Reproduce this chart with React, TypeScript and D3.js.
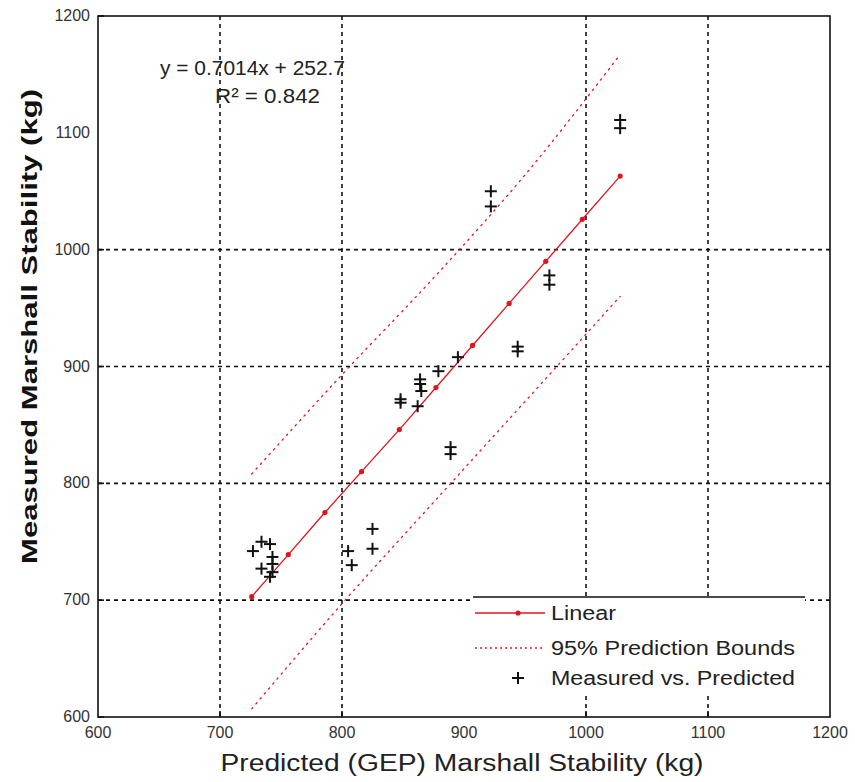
import React, { useEffect, useRef } from "react";
import * as d3 from "d3";

// ---- data ----
const xTicks = [600, 700, 800, 900, 1000, 1100, 1200];
const yTicks = [600, 700, 800, 900, 1000, 1100, 1200];
const xGridValues = [700, 800, 1000, 1100];
const yGridValues = [700, 800, 900, 1000];
const yTickMarks = [600, 700, 800, 900, 1000, 1200];

const predicted = [1028, 1028, 922, 922, 970, 970, 944, 944, 895, 879, 864, 864, 865, 862, 848, 848, 889, 889, 825, 825, 805, 808, 734, 741, 727, 743, 743, 734, 741, 743];
const measured = [1111, 1104, 1050, 1037, 978, 970, 917, 913, 908, 896, 889, 885, 879, 866, 869, 872, 831, 825, 761, 744, 742, 730, 750, 748, 742, 737, 731, 727, 720, 724];

const fitX = [726, 756, 786, 816, 847, 877, 907, 937, 967, 997, 1028];
const fitY = [703, 739, 775, 810, 846, 882, 918, 954, 990, 1026, 1063];

const boundX = [726, 800, 877, 950, 1028];
const upperBound = [808, 893, 978, 1064, 1167];
const lowerBound = [607, 697, 786, 870, 960];

const equationText = "y = 0.7014x + 252.7";
const r2Text = "R² = 0.842";
const legendLabels = ["Linear", "95% Prediction Bounds", "Measured vs. Predicted"];
const xLabel = "Predicted (GEP) Marshall Stability (kg)";
const yLabel = "Measured Marshall Stability (kg)";

const W = 855;
const H = 782;
const L = 98, R = 830, T = 16, B = 717;
const RED = "#e0141e";

export default function App() {
  const ref = useRef<SVGSVGElement | null>(null);

  useEffect(() => {
    const svg = d3.select(ref.current);
    svg.selectAll("*").remove();
    const x = d3.scaleLinear().domain([600, 1200]).range([L, R]);
    const y = d3.scaleLinear().domain([600, 1200]).range([B, T]);
    const font = "Arial, 'Liberation Sans', sans-serif";

    svg.append("rect").attr("width", W).attr("height", H).attr("fill", "white");

    // grid
    const g = svg.append("g");
    g.selectAll("line.vg").data(xGridValues).enter().append("line")
      .attr("x1", d => x(d)).attr("x2", d => x(d)).attr("y1", T).attr("y2", B)
      .attr("stroke", "#111").attr("stroke-width", 1.6).attr("stroke-dasharray", "4,4");
    g.selectAll("line.hg").data(yGridValues).enter().append("line")
      .attr("y1", d => y(d)).attr("y2", d => y(d)).attr("x1", L).attr("x2", R)
      .attr("stroke", "#111").attr("stroke-width", 1.6).attr("stroke-dasharray", "4,4");

    // prediction bounds
    const bLine = d3.line<number>().x((_, i) => x(boundX[i])).curve(d3.curveMonotoneX);
    [upperBound, lowerBound].forEach(arr => {
      svg.append("path")
        .attr("d", bLine.y((d) => y(d))(arr))
        .attr("fill", "none").attr("stroke", RED).attr("stroke-width", 1.3)
        .attr("stroke-dasharray", "1.5,5").attr("stroke-linecap", "round");
    });

    // linear fit
    const fLine = d3.line<number>().x((_, i) => x(fitX[i])).y(d => y(d));
    svg.append("path").attr("d", fLine(fitY)).attr("fill", "none")
      .attr("stroke", RED).attr("stroke-width", 1.3);
    svg.selectAll("circle.fit").data(fitY).enter().append("circle")
      .attr("cx", (_, i) => x(fitX[i])).attr("cy", d => y(d)).attr("r", 2.6).attr("fill", RED);

    // points
    const plus = (sel: any, cx: number, cy: number, s: number) => {
      sel.append("line").attr("x1", cx - s).attr("x2", cx + s).attr("y1", cy).attr("y2", cy)
        .attr("stroke", "#111").attr("stroke-width", 2);
      sel.append("line").attr("x1", cx).attr("x2", cx).attr("y1", cy - s).attr("y2", cy + s)
        .attr("stroke", "#111").attr("stroke-width", 2);
    };
    const pg = svg.append("g");
    predicted.forEach((p, i) => plus(pg, x(p), y(measured[i]), 6));

    // legend
    const lg = svg.append("g");
    lg.append("rect").attr("x", 473).attr("y", 597).attr("width", 332).attr("height", 96).attr("fill", "white");
    lg.append("line").attr("x1", 473).attr("x2", 805).attr("y1", 597).attr("y2", 597)
      .attr("stroke", "#111").attr("stroke-width", 1.6);
    const rows = [613, 648, 678];
    lg.append("line").attr("x1", 475).attr("x2", 545).attr("y1", rows[0]).attr("y2", rows[0])
      .attr("stroke", RED).attr("stroke-width", 1.3);
    lg.append("circle").attr("cx", 518).attr("cy", rows[0]).attr("r", 2.6).attr("fill", RED);
    lg.append("line").attr("x1", 475).attr("x2", 545).attr("y1", rows[1]).attr("y2", rows[1])
      .attr("stroke", RED).attr("stroke-width", 1.3).attr("stroke-dasharray", "2,3");
    plus(lg, 518, rows[2], 6);
    const widths = [65, 244, 244];
    legendLabels.forEach((t, i) => {
      lg.append("text").attr("x", 551).attr("y", rows[i] + 7).text(t)
        .attr("font-family", font).attr("font-size", 20).attr("fill", "#222")
        .attr("textLength", widths[i]).attr("lengthAdjust", "spacingAndGlyphs");
    });

    // axes box
    svg.append("rect").attr("x", L).attr("y", T).attr("width", R - L).attr("height", B - T)
      .attr("fill", "none").attr("stroke", "#111").attr("stroke-width", 1.6);

    // ticks
    svg.selectAll("line.yt").data(yTickMarks).enter().append("line")
      .attr("x1", L).attr("x2", L + 6).attr("y1", d => y(d)).attr("y2", d => y(d))
      .attr("stroke", "#111").attr("stroke-width", 1.6);
    svg.selectAll("line.xt").data(xGridValues).enter().append("line")
      .attr("y1", B).attr("y2", B - 6).attr("x1", d => x(d)).attr("x2", d => x(d))
      .attr("stroke", "#111").attr("stroke-width", 1.6);

    svg.selectAll("text.yl").data(yTicks).enter().append("text")
      .attr("x", L - 8).attr("y", d => y(d) + 5).attr("text-anchor", "end")
      .attr("font-family", font).attr("font-size", 16).attr("fill", "#333").text(d => d);
    svg.selectAll("text.xl").data(xTicks).enter().append("text")
      .attr("x", d => x(d)).attr("y", B + 21).attr("text-anchor", "middle")
      .attr("font-family", font).attr("font-size", 16).attr("fill", "#333").text(d => d);

    // axis labels
    svg.append("text").attr("x", (L + R) / 2 - 2).attr("y", 771).attr("text-anchor", "middle")
      .attr("font-family", font).attr("font-size", 23).attr("fill", "#222")
      .attr("textLength", 483).attr("lengthAdjust", "spacingAndGlyphs").text(xLabel);
    svg.append("text").attr("transform", `translate(37, ${(T + B) / 2 - 40}) rotate(-90)`)
      .attr("text-anchor", "middle").attr("font-family", font).attr("font-size", 22)
      .attr("font-weight", "bold").attr("fill", "#111")
      .attr("textLength", 475).attr("lengthAdjust", "spacingAndGlyphs").text(yLabel);

    // equation
    svg.append("text").attr("x", 160).attr("y", 75).attr("font-family", font).attr("font-size", 20)
      .attr("fill", "#222").attr("textLength", 185).attr("lengthAdjust", "spacingAndGlyphs").text(equationText);
    svg.append("text").attr("x", 215).attr("y", 103).attr("font-family", font).attr("font-size", 20)
      .attr("fill", "#222").attr("textLength", 105).attr("lengthAdjust", "spacingAndGlyphs").text(r2Text);
  }, []);

  return (
    <svg ref={ref} width={W} height={H} style={{ position: "absolute", left: 0, top: 0, display: "block" }} />
  );
}
